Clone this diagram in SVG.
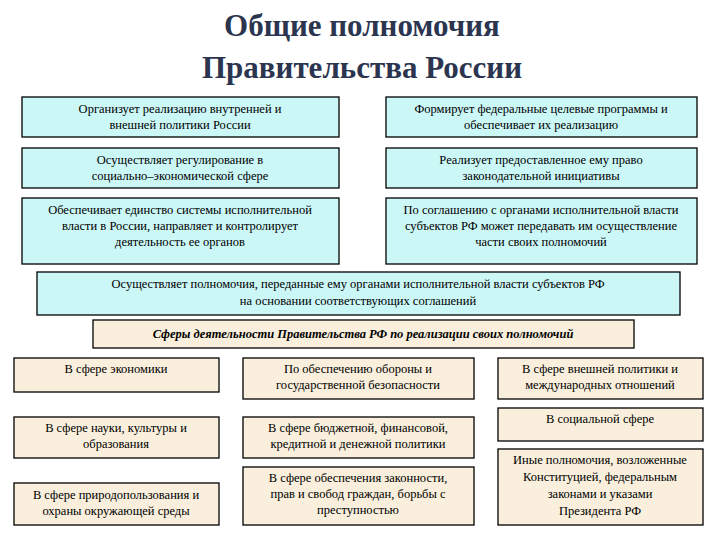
<svg xmlns="http://www.w3.org/2000/svg" width="720" height="540" viewBox="0 0 720 540">
<style>
.c{fill:#ccf7f7;stroke:#000;stroke-width:1.3}
.b{fill:#f9efdc;stroke:#000;stroke-width:1.3}
text{font-family:'Liberation Serif','Times New Roman','DejaVu Serif',serif;font-size:12.5px;fill:#000;text-anchor:middle}
.t{font-size:31px;font-weight:bold;fill:#2b3550}
.i{font-style:italic;font-weight:bold}
</style>
<rect width="720" height="540" fill="#fff"/>
<g id="title"><text class="t" x="362" y="36" font-family="Liberation Serif, serif">Общие полномочия</text><text class="t" x="362" y="78" font-family="Liberation Serif, serif">Правительства России</text></g>
<g id="n1" font-family="Liberation Serif, serif"><rect class="c" x="22" y="97" width="317" height="40"/><text x="180" y="113">Организует реализацию внутренней и</text><text x="180" y="129">внешней политики России</text></g>
<g id="n2"><rect class="c" x="386" y="97" width="311" height="40"/><text x="541" y="113">Формирует федеральные целевые программы и</text><text x="541" y="129">обеспечивает их реализацию</text></g>
<g id="n3"><rect class="c" x="22" y="148" width="317" height="40"/><text x="180" y="164">Осуществляет регулирование в</text><text x="180" y="180">социально–экономической сфере</text></g>
<g id="n4"><rect class="c" x="386" y="148" width="311" height="40"/><text x="541" y="164">Реализует предоставленное ему право</text><text x="541" y="180">законодательной инициативы</text></g>
<g id="n5"><rect class="c" x="22" y="198" width="317" height="66"/><text x="180" y="214">Обеспечивает единство системы исполнительной</text><text x="180" y="230">власти в России, направляет и контролирует</text><text x="180" y="246">деятельность ее органов</text></g>
<g id="n6"><rect class="c" x="386" y="198" width="311" height="66"/><text x="541" y="214">По соглашению с органами исполнительной власти</text><text x="541" y="230">субъектов РФ может передавать им осуществление</text><text x="541" y="246">части своих полномочий</text></g>
<g id="n7"><rect class="c" x="37" y="272" width="643" height="43"/><text x="358" y="288">Осуществляет полномочия, переданные ему органами исполнительной власти субъектов РФ</text><text x="358" y="305">на основании соответствующих соглашений</text></g>
<g id="n8"><rect class="b" x="93" y="320" width="541" height="28"/><text class="i" x="363" y="338">Сферы деятельности Правительства РФ по реализации своих полномочий</text></g>
<g id="b1"><rect class="b" x="14" y="358" width="205" height="34"/><text x="116" y="373">В сфере экономики</text></g>
<g id="b2"><rect class="b" x="243" y="358" width="231" height="41"/><text x="358" y="373">По обеспечению обороны и</text><text x="358" y="389">государственной безопасности</text></g>
<g id="b3"><rect class="b" x="498" y="358" width="205" height="41"/><text x="600" y="373">В сфере внешней политики и</text><text x="600" y="389">международных отношений</text></g>
<g id="b4"><rect class="b" x="14" y="417" width="205" height="41"/><text x="116" y="432">В сфере науки, культуры и</text><text x="116" y="448">образования</text></g>
<g id="b5"><rect class="b" x="243" y="417" width="231" height="41"/><text x="358" y="432">В сфере бюджетной, финансовой,</text><text x="358" y="448">кредитной и денежной политики</text></g>
<g id="b6"><rect class="b" x="498" y="408" width="205" height="33"/><text x="600" y="423">В социальной сфере</text></g>
<g id="b7"><rect class="b" x="14" y="483" width="205" height="42"/><text x="116" y="499">В сфере природопользования и</text><text x="116" y="515">охраны окружающей среды</text></g>
<g id="b8"><rect class="b" x="243" y="467" width="231" height="58"/><text x="358" y="482">В сфере обеспечения законности,</text><text x="358" y="498">прав и свобод граждан, борьбы с</text><text x="358" y="514">преступностью</text></g>
<g id="b9"><rect class="b" x="498" y="449" width="205" height="76"/><text x="600" y="464">Иные полномочия, возложенные</text><text x="600" y="481">Конституцией, федеральным</text><text x="600" y="498">законами и указами</text><text x="600" y="515">Президента РФ</text></g>
<g id="connectors"/>
</svg>
